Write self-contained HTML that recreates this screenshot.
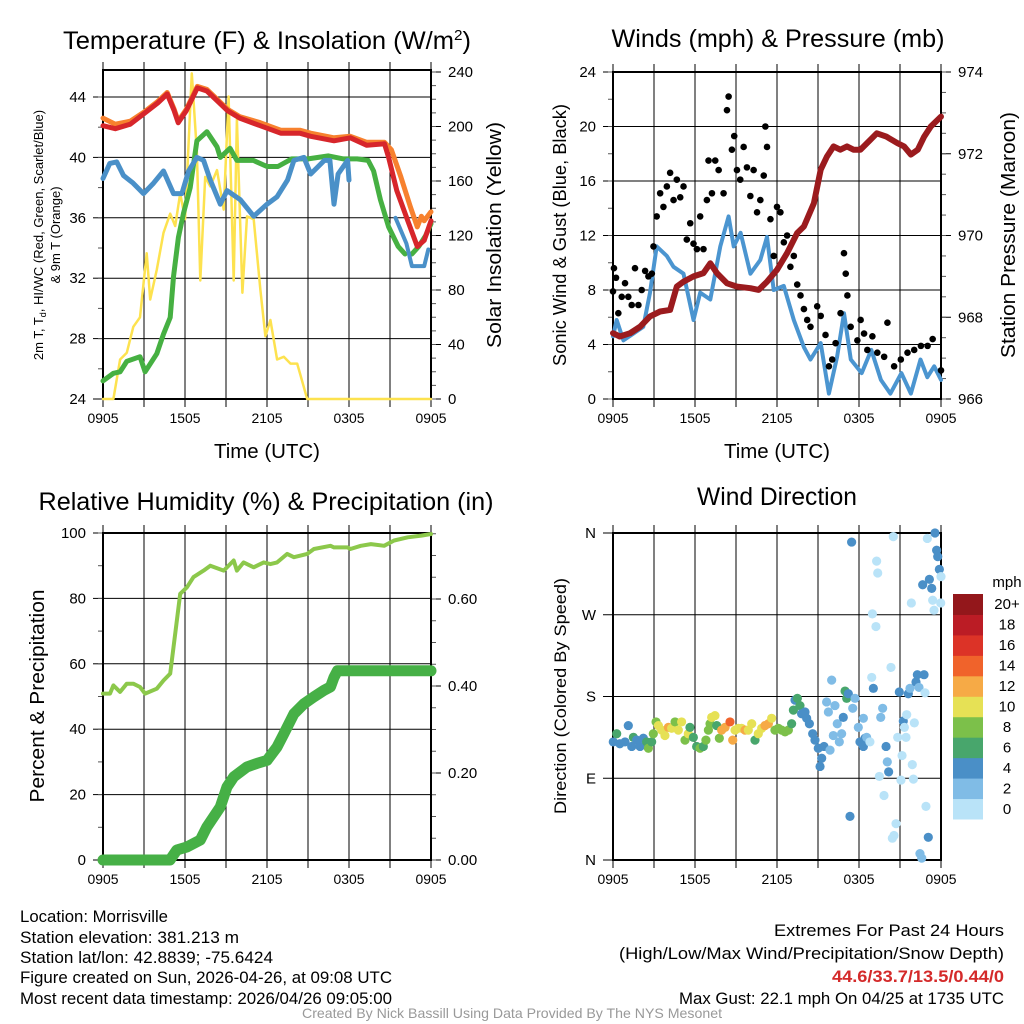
<!DOCTYPE html>
<html><head><meta charset="utf-8"><style>
html,body{margin:0;padding:0;background:#fff}
svg{display:block;font-family:"Liberation Sans",Arial,sans-serif}
</style></head><body>
<svg id="fig" width="1024" height="1024" viewBox="0 0 1024 1024" xmlns="http://www.w3.org/2000/svg">
<rect width="1024" height="1024" fill="#fff"/>
<g id="layer"></g>
<!-- titles -->
<text x="267" y="49" text-anchor="middle" font-size="25" textLength="408" lengthAdjust="spacingAndGlyphs">Temperature (F) &amp; Insolation (W/m<tspan dy="-9" font-size="15">2</tspan><tspan dy="9">)</tspan></text>
<text x="778" y="47" text-anchor="middle" font-size="25" textLength="333" lengthAdjust="spacingAndGlyphs">Winds (mph) &amp; Pressure (mb)</text>
<text x="266" y="510" text-anchor="middle" font-size="25" textLength="455" lengthAdjust="spacingAndGlyphs">Relative Humidity (%) &amp; Precipitation (in)</text>
<text x="777" y="505" text-anchor="middle" font-size="25" textLength="160" lengthAdjust="spacingAndGlyphs">Wind Direction</text>
<text x="267" y="458" text-anchor="middle" font-size="20" textLength="106" lengthAdjust="spacingAndGlyphs">Time (UTC)</text>
<text x="777" y="458" text-anchor="middle" font-size="20" textLength="106" lengthAdjust="spacingAndGlyphs">Time (UTC)</text>
<text transform="translate(43,235) rotate(-90)" text-anchor="middle" font-size="13">2m T, T<tspan font-size="9" dy="3">d</tspan><tspan dy="-3">, HI/WC (Red, Green, Scarlet/Blue)</tspan></text>
<text transform="translate(60,235) rotate(-90)" text-anchor="middle" font-size="13">&amp; 9m T (Orange)</text>
<text transform="translate(501,235) rotate(-90)" text-anchor="middle" font-size="20" textLength="226" lengthAdjust="spacingAndGlyphs">Solar Insolation (Yellow)</text>
<text transform="translate(566,235) rotate(-90)" text-anchor="middle" font-size="18" textLength="262" lengthAdjust="spacingAndGlyphs">Sonic Wind &amp; Gust (Blue, Black)</text>
<text transform="translate(1015,235) rotate(-90)" text-anchor="middle" font-size="20" textLength="246" lengthAdjust="spacingAndGlyphs">Station Pressure (Maroon)</text>
<text transform="translate(44,696) rotate(-90)" text-anchor="middle" font-size="20" textLength="213" lengthAdjust="spacingAndGlyphs">Percent &amp; Precipitation</text>
<text transform="translate(566,696) rotate(-90)" text-anchor="middle" font-size="17" textLength="236" lengthAdjust="spacingAndGlyphs">Direction (Colored By Speed)</text>
<!-- footer -->
<g font-size="17">
<text x="20" y="922" textLength="148" lengthAdjust="spacingAndGlyphs">Location: Morrisville</text>
<text x="20" y="943" textLength="219" lengthAdjust="spacingAndGlyphs">Station elevation: 381.213 m</text>
<text x="20" y="963" textLength="253" lengthAdjust="spacingAndGlyphs">Station lat/lon: 42.8839; -75.6424</text>
<text x="20" y="983" textLength="372" lengthAdjust="spacingAndGlyphs">Figure created on Sun, 2026-04-26, at 09:08 UTC</text>
<text x="20" y="1004" textLength="372" lengthAdjust="spacingAndGlyphs">Most recent data timestamp: 2026/04/26 09:05:00</text>
</g>
<g font-size="17" text-anchor="end">
<text x="1004" y="936" textLength="230" lengthAdjust="spacingAndGlyphs">Extremes For Past 24 Hours</text>
<text x="1004" y="959" textLength="385" lengthAdjust="spacingAndGlyphs">(High/Low/Max Wind/Precipitation/Snow Depth)</text>
<text x="1004" y="982" fill="#d42a2a" font-weight="bold" textLength="172" lengthAdjust="spacingAndGlyphs">44.6/33.7/13.5/0.44/0</text>
<text x="1004" y="1004" textLength="325" lengthAdjust="spacingAndGlyphs">Max Gust: 22.1 mph On 04/25 at 1735 UTC</text>
</g>
<text x="512" y="1018" text-anchor="middle" font-size="14" fill="#999" textLength="420" lengthAdjust="spacingAndGlyphs">Created By Nick Bassill Using Data Provided By The NYS Mesonet</text>
</svg>
<script>
// ---------- data ----------
const xTickLabels = ["0905","1505","2105","0305","0905"];
// Panel 1
const tempTimes = [0,0.9,2,3,4,4.7,5.2,5.5,6.1,6.9,7.6,8.3,9.1,10,11.5,13,14.4,15.2,16.9,18.1,19.3,20.6,20.9,21.5,22.3,23,23.5,24];
const tempVals  = [42.1,41.9,42.2,42.9,43.6,44.2,43.1,42.3,43.1,44.6,44.4,43.8,43.1,42.6,42.1,41.6,41.6,41.4,41.1,41.3,40.8,40.9,40.0,37.8,35.8,34.1,34.5,35.8];
const t9Times = [0,0.9,2,3,4,4.7,5.2,5.5,6.1,6.9,7.6,8.3,9.1,10,11.5,13,14.4,15.2,16.9,18.1,19.3,20.6,21.1,21.8,22.5,23,23.3,23.5,24];
const t9Vals  = [42.6,42.2,42.4,43.0,43.7,44.3,43.2,42.4,43.2,44.7,44.5,43.9,43.2,42.7,42.3,41.8,41.8,41.6,41.3,41.4,41.0,41.0,40.5,38.7,36.7,35.4,36.1,35.8,36.4];
const tdTimes = [0,0.76,1.25,1.74,2.71,3.08,3.94,4.43,4.92,5.16,5.52,5.89,6.38,6.87,7.6,8.34,8.58,9.29,9.8,11.0,12.0,12.8,13.8,15.0,16.5,17.6,18.6,19.4,19.8,20.3,20.9,21.6,22.1];
const tdVals  = [25.2,25.7,25.8,26.5,26.8,25.8,27.0,28.3,29.4,32.1,34.7,36.3,38.0,41.1,41.7,40.7,40.0,40.6,39.8,39.8,39.4,39.4,39.9,39.9,40.1,39.9,39.9,39.8,39.1,37.2,35.4,34.1,33.6];
const tdEndTimes = [22.6,23.1,23.6,24];
const tdEndVals  = [33.6,34.1,34.8,35.6];
const hiTimes = [0,0.5,1.0,1.5,2.2,2.96,3.7,4.43,5.16,5.77,6.26,6.87,7.36,7.85,8.58,9.07,10.05,11.03,12.0,12.74,13.5,13.97,14.7,15.2,16.2,16.6,16.9,17.2,17.9,18.0];
const hiVals  = [38.6,39.6,39.7,38.8,38.3,37.6,38.3,39.1,37.6,37.6,39.1,40.0,39.8,38.5,36.9,37.8,37.2,36.1,36.9,37.4,38.5,39.8,40.0,38.9,39.8,39.8,36.9,38.9,39.8,38.5];
const hiEndTimes = [21.4,22.2,22.6,23.5,23.8];
const hiEndVals  = [36.0,34.3,32.8,32.8,33.9];
const solarTimes = [0,0.76,1.25,1.74,2.22,2.71,3.2,3.45,3.94,4.43,4.92,5.28,5.65,6.01,6.5,6.87,7.12,7.48,7.85,8.34,8.83,9.19,9.56,9.8,10.2,10.54,11.03,11.52,11.88,12.25,12.74,13.23,13.72,14.21,14.94,24];
const solarVals  = [0,0,29,34,53,60,107,73,95,122,136,127,151,132,239,181,87,163,156,168,139,222,87,205,78,134,132,80,46,58,29,31,26,26,0,0];
// Panel 2
const windTimes = [0,0.27,0.76,1.49,2.22,2.71,3.2,3.94,4.43,5.16,5.89,6.38,7.12,7.85,8.46,8.83,9.34,10.05,10.78,11.27,11.76,12.5,13.23,13.97,14.45,15.2,15.8,16.4,16.9,17.4,18.2,18.9,19.6,20.3,21.1,21.8,22.5,23.0,23.5,24];
const windVals  = [4.6,5.8,4.3,4.8,5.3,7.8,11.2,10.5,9.7,9.2,5.8,7.8,7.3,11.2,13.4,11.2,12.2,9.2,10.2,11.9,8.0,8.3,5.8,3.8,2.9,4.1,0.4,3.1,6.3,2.9,1.9,3.6,1.4,0.4,1.9,0.4,2.9,1.6,2.4,1.4];
const gustTimes = [0,0.07,0.22,0.39,0.64,0.88,1.12,1.37,1.61,1.86,2.1,2.35,2.59,2.84,2.96,3.2,3.45,3.69,3.94,4.18,4.43,4.67,4.92,5.16,5.4,5.65,5.89,6.14,6.38,6.62,6.87,6.99,7.24,7.48,7.73,8.09,8.34,8.46,8.7,8.87,9.07,9.31,9.56,9.8,10.05,10.29,10.54,10.78,11.03,11.15,11.27,11.52,11.76,12.0,12.25,12.5,12.74,12.98,13.23,13.48,13.72,13.97,14.21,14.45,14.94,15.2,15.55,15.8,16.04,16.29,16.65,16.9,17.03,17.15,17.39,17.88,18.12,18.37,18.61,18.98,19.34,19.84,20.08,20.57,21.06,21.55,22.04,22.53,23.02,23.39,24];
const gustVals  = [7.9,9.6,8.9,6.3,7.5,8.5,7.5,6.9,9.6,6.9,8.0,9.4,9.0,9.2,11.2,13.4,15.1,14.1,15.6,16.6,14.6,16.1,14.8,15.6,11.7,12.9,11.4,11.0,13.4,11.0,14.6,17.5,15.1,17.5,16.8,15.1,21.2,22.2,18.3,19.3,16.8,16.1,18.5,17.0,14.9,16.8,13.7,14.6,16.4,20.0,18.5,13.2,10.5,14.1,13.7,11.5,12.0,9.7,10.5,8.4,7.6,6.6,5.8,5.3,6.8,6.1,4.7,2.4,2.9,4.1,6.3,10.7,9.2,7.6,5.3,4.3,5.8,4.8,3.6,4.6,3.4,3.1,5.6,2.4,2.9,3.4,3.6,3.9,3.9,4.4,2.1];
const presTimes = [0,0.5,1.25,1.98,2.71,3.45,4.18,4.67,5.16,5.89,6.62,7.12,7.6,8.34,9.07,10.05,10.66,11.27,12.0,12.74,13.48,13.97,14.7,15.2,15.65,16.14,16.63,17.12,17.6,18.1,18.83,19.3,20.0,20.8,21.3,21.8,22.3,22.77,23.26,24];
const presVals  = [967.61,967.53,967.61,967.77,968.02,968.14,968.18,968.75,968.87,969.0,969.08,969.32,969.08,968.83,968.75,968.71,968.67,968.87,969.16,969.57,970.06,970.22,970.79,971.61,971.93,972.18,972.1,972.18,972.1,972.1,972.34,972.5,972.42,972.26,972.18,971.98,972.1,972.42,972.67,972.91];
// Panel 3
const rhTimes = [0,0.51,0.76,1.25,1.74,2.22,2.71,3.08,3.94,4.43,4.92,5.28,5.65,6.14,6.62,7.36,7.85,8.83,9.56,9.8,10.29,11.03,11.76,12.25,12.74,13.48,13.97,14.94,15.43,16.65,16.9,17.9,18.1,18.86,19.6,20.57,21.3,22.3,23.3,24];
const rhVals  = [50.9,50.9,53.4,51.4,53.9,53.9,52.9,50.9,52.4,54.9,57.0,69.2,81.4,83.4,86.5,88.5,90.0,88.5,91.6,88.5,91.0,89.5,91.0,90.5,91.0,93.6,92.6,93.6,95.1,96.1,95.6,95.6,95.1,96.1,96.6,96.1,97.7,98.7,99.2,99.7];
const pcpTimes = [0,4.9,5.4,6.14,7.12,7.6,8.58,9.07,9.56,10.54,11.27,12.0,12.74,13.23,13.97,14.7,15.43,16.16,16.65,16.9,17.15,24];
const pcpVals  = [0,0,0.023,0.03,0.046,0.076,0.122,0.168,0.191,0.214,0.222,0.229,0.26,0.29,0.336,0.359,0.375,0.39,0.398,0.42,0.435,0.435];
// Panel 4
const dirTimes = [0.02,0.27,0.5,0.88,1.12,1.37,1.49,1.73,1.98,2.22,2.46,2.59,2.83,2.95,3.15,3.32,3.56,3.8,4.05,4.29,4.54,4.78,5.02,5.27,5.51,5.63,5.88,6.12,6.37,6.61,6.8,6.98,7.1,7.22,7.46,7.59,7.78,7.95,8.2,8.56,8.76,8.93,9.17,9.41,9.66,9.9,10.15,10.39,10.63,10.88,11.12,11.37,11.61,11.85,12.1,12.34,12.59,12.83,13.07,13.2,13.32,13.49,13.68,13.8,14.05,14.17,14.37,14.61,14.78,15.02,15.15,15.27,15.44,15.63,15.76,15.88,16.0,16.12,16.24,16.41,16.56,16.73,16.85,16.98,17.1,17.22,17.34,17.46,17.54,17.71,17.95,18.07,18.32,18.32,18.44,18.56,18.8,18.93,19.05,18.98,19.24,19.29,19.37,19.49,19.59,19.73,19.83,19.98,20.07,20.17,20.34,20.51,20.44,20.56,20.71,20.83,20.95,21.07,21.15,21.24,21.32,21.44,21.49,21.61,21.73,21.83,21.9,21.98,22.05,22.17,22.27,22.39,22.46,22.59,22.66,22.76,22.83,22.9,23.0,23.07,23.15,23.32,23.39,23.49,23.56,23.68,23.76,23.88,23.98,24.0];
const dirDegs = [130,139,128,130,148,125,135,132,125,134,130,123,130,139,152,148,143,137,146,145,152,143,152,132,139,146,135,125,123,125,132,143,150,157,159,148,134,143,146,152,132,143,145,145,143,143,150,132,139,145,148,150,156,143,145,143,141,143,150,165,176,178,170,161,163,156,150,139,132,123,103,112,125,174,163,121,198,137,170,150,130,139,157,186,178,183,48,350,167,178,146,130,156,125,134,135,130,201,189,271,257,329,316,92,157,167,71,125,108,97,212,356,24,27,40,135,185,88,115,153,146,135,160,183,189,283,105,89,151,196,204,190,7,2,303,204,184,59,354,25,309,299,286,275,360,341,334,320,283,312];
const dirSpeeds = [4,6,4,4,4,4,6,4,4,4,6,8,6,8,8,10,10,10,12,10,8,10,10,8,10,6,6,6,8,6,8,8,8,10,10,6,8,12,12,14,12,10,10,10,12,10,10,6,10,10,12,12,10,8,8,8,8,8,6,6,4,6,6,4,4,4,4,4,4,4,4,4,4,2,2,2,2,2,2,2,2,2,4,6,6,4,4,4,2,2,2,4,2,4,4,2,0,0,4,0,0,0,0,0,2,2,0,4,2,4,0,0,0,0,0,0,4,0,0,4,0,0,0,4,2,0,0,0,0,4,4,2,2,2,4,4,0,0,0,4,4,4,0,0,4,4,4,4,0,0];
const cbLabels = ["0","2","4","6","8","10","12","14","16","18","20+"];
const cbColors = ["#b9e3f8","#80bce6","#4a8fc7","#48a66c","#7cc04a","#e6e155","#f6aa46","#f0632b","#dc3327","#bb1c25","#93171b"];

// ---------- helpers ----------
const NS="http://www.w3.org/2000/svg";
const layer=document.getElementById('layer');
function mk(tag,attrs,parent){const e=document.createElementNS(NS,tag);for(const k in attrs)e.setAttribute(k,attrs[k]);(parent||layer).appendChild(e);return e;}
function scale(d0,d1,r0,r1){return v=>r0+(v-d0)*(r1-r0)/(d1-d0);}
function linePath(ts,vs,sx,sy){let d='';ts.forEach((t,i)=>{if(vs[i]==null)return;d+=(d?'L':'M')+sx(t).toFixed(1)+' '+sy(vs[i]).toFixed(1);});return d;}

function panelFrame(L,T,R,B,sy,leftTicks,leftMinor,leftLabels,sy2,rightTicks,rightMinor,rightLabels,name){
  const g=mk('g',{});
  
  
  const sx=scale(0,24,L,R);
  for(let h=0;h<=24;h+=3){const x=sx(h);
    const gl=mk('line',{x1:x,y1:T,x2:x,y2:B,stroke:'#000','stroke-width':1},g);
    
    
    mk('line',{x1:x,y1:B,x2:x,y2:B+8,stroke:'#000','stroke-width':1},g);
    mk('line',{x1:x,y1:T,x2:x,y2:T-8,stroke:'#000','stroke-width':1},g);
  }
  xTickLabels.forEach((lab,i)=>{const t=mk('text',{x:sx(i*6),y:B+24,'text-anchor':'middle','font-size':14,textLength:31,lengthAdjust:'spacingAndGlyphs'},g);t.textContent=lab;
    
    });
  leftTicks.forEach((v,i)=>{const y=sy(v);
    mk('line',{x1:L,y1:y,x2:R,y2:y,stroke:'#000','stroke-width':1},g);
    mk('line',{x1:L-10,y1:y,x2:L,y2:y,stroke:'#000','stroke-width':1},g);
    const t=mk('text',{x:L-17,y:y+5,'text-anchor':'end','font-size':15},g);t.textContent=leftLabels[i];
    
    });
  leftMinor.forEach(v=>{const y=sy(v);mk('line',{x1:L-5,y1:y,x2:L,y2:y,stroke:'#555','stroke-width':1},g);});
  if(sy2){
    rightTicks.forEach((v,i)=>{const y=sy2(v);
      mk('line',{x1:R,y1:y,x2:R+10,y2:y,stroke:'#000','stroke-width':1},g);
      const t=mk('text',{x:R+17,y:y+5,'font-size':15},g);t.textContent=rightLabels[i];
      
      });
    rightMinor.forEach(v=>{const y=sy2(v);mk('line',{x1:R,y1:y,x2:R+5,y2:y,stroke:'#555','stroke-width':1},g);});
  }
  const fr=mk('rect',{x:L,y:T,width:R-L,height:B-T,fill:'none',stroke:'#000','stroke-width':2},g);
  
  
  return sx;
}
function range(a,b,s){const r=[];for(let v=a;v<=b+1e-9;v+=s)r.push(+v.toFixed(4));return r;}
function addLine(ts,vs,sx,sy,color,w,name){
  const p=mk('path',{d:linePath(ts,vs,sx,sy),fill:'none',stroke:color,'stroke-width':w,'stroke-linejoin':'round','stroke-linecap':'round'});
  
  
  return p;
}

// ---------- Panel 1 ----------
(function(){
  const L=103,T=70,R=431,B=399;
  const sy=scale(24,44,399,97), sy2=scale(0,240,399,72);
  const sx=panelFrame(L,T,R,B,sy,range(24,44,4),range(26,44,2),["24","28","32","36","40","44"],sy2,range(0,240,40),range(0,240,10),["0","40","80","120","160","200","240"],'temperature');
  addLine(solarTimes,solarVals,sx,sy2,'#fde24f',2.5,'solar-insolation-line');
  addLine(tdTimes,tdVals,sx,sy,'#46b042',5,'dewpoint-line');
  addLine(tdEndTimes,tdEndVals,sx,sy,'#46b042',5,'dewpoint-line-end');
  addLine(hiTimes,hiVals,sx,sy,'#4a90c8',5,'heat-index-wind-chill-line');
  addLine(hiEndTimes,hiEndVals,sx,sy,'#4a90c8',4,'heat-index-wind-chill-line-end');
  addLine(t9Times,t9Vals,sx,sy,'#f7812e',5,'9m-temperature-line');
  addLine(tempTimes,tempVals,sx,sy,'#d7262b',5,'2m-temperature-line');
})();

// ---------- Panel 2 ----------
(function(){
  const L=613,T=72,R=941,B=399;
  const sy=scale(0,24,399,72), sy2=scale(966,974,399,72);
  const sx=panelFrame(L,T,R,B,sy,range(0,24,4),range(0,24,2),["0","4","8","12","16","20","24"],sy2,range(966,974,2),range(966,974,0.5),["966","968","970","972","974"],'winds');
  addLine(windTimes,windVals,sx,sy,'#4b95d0',4,'sonic-wind-line');
  const gg=mk('g',{});
  
  
  gustTimes.forEach((t,i)=>{const c=mk('circle',{cx:sx(t),cy:sy(gustVals[i]),r:3.3,fill:'#000'},gg);
    
    });
  addLine(presTimes,presVals,sx,sy2,'#9b1b1e',6,'station-pressure-line');
})();

// ---------- Panel 3 ----------
(function(){
  const L=103,T=533,R=431,B=860;
  const sy=scale(0,100,860,533), sy2=scale(0,0.6,860,599);
  const sx=panelFrame(L,T,R,B,sy,range(0,100,20),range(0,100,10),["0","20","40","60","80","100"],sy2,range(0,0.6,0.2),range(0,0.75,0.05),["0.00","0.20","0.40","0.60"],'humidity');
  addLine(rhTimes,rhVals,sx,sy,'#8cc84b',4,'relative-humidity-line');
  addLine(pcpTimes,pcpVals,sx,sy2,'#46b046',11,'precipitation-line');
})();

// ---------- Panel 4 ----------
(function(){
  const L=613,T=533,R=941,B=860;
  const sy=scale(0,360,860,533);
  const sx=panelFrame(L,T,R,B,sy,range(0,360,90),[],["N","E","S","W","N"],null,[],[],[],'wind-direction');
  const gg=mk('g',{});
  
  
  dirTimes.forEach((t,i)=>{const idx=Math.min(10,Math.floor(dirSpeeds[i]/2));
    const c=mk('circle',{cx:sx(t),cy:sy(dirDegs[i]),r:4.6,fill:cbColors[idx]},gg);
    
    });
  // colorbar
  const cb=mk('g',{});
  
  
  const cbT=594,cbB=819,h=(cbB-cbT)/cbLabels.length;
  cbLabels.forEach((lab,i)=>{const y=cbB-(i+1)*h;
    const r=mk('rect',{x:953,y:y,width:30,height:h+0.5,fill:cbColors[i]},cb);
    
    
    const t=mk('text',{x:1007,y:y+h/2+5,'text-anchor':'middle','font-size':15},cb);t.textContent=lab;
    
    });
  const u=mk('text',{x:1007,y:587,'text-anchor':'middle','font-size':15},cb);u.textContent='mph';
  
  
})();
</script>
</body></html>
